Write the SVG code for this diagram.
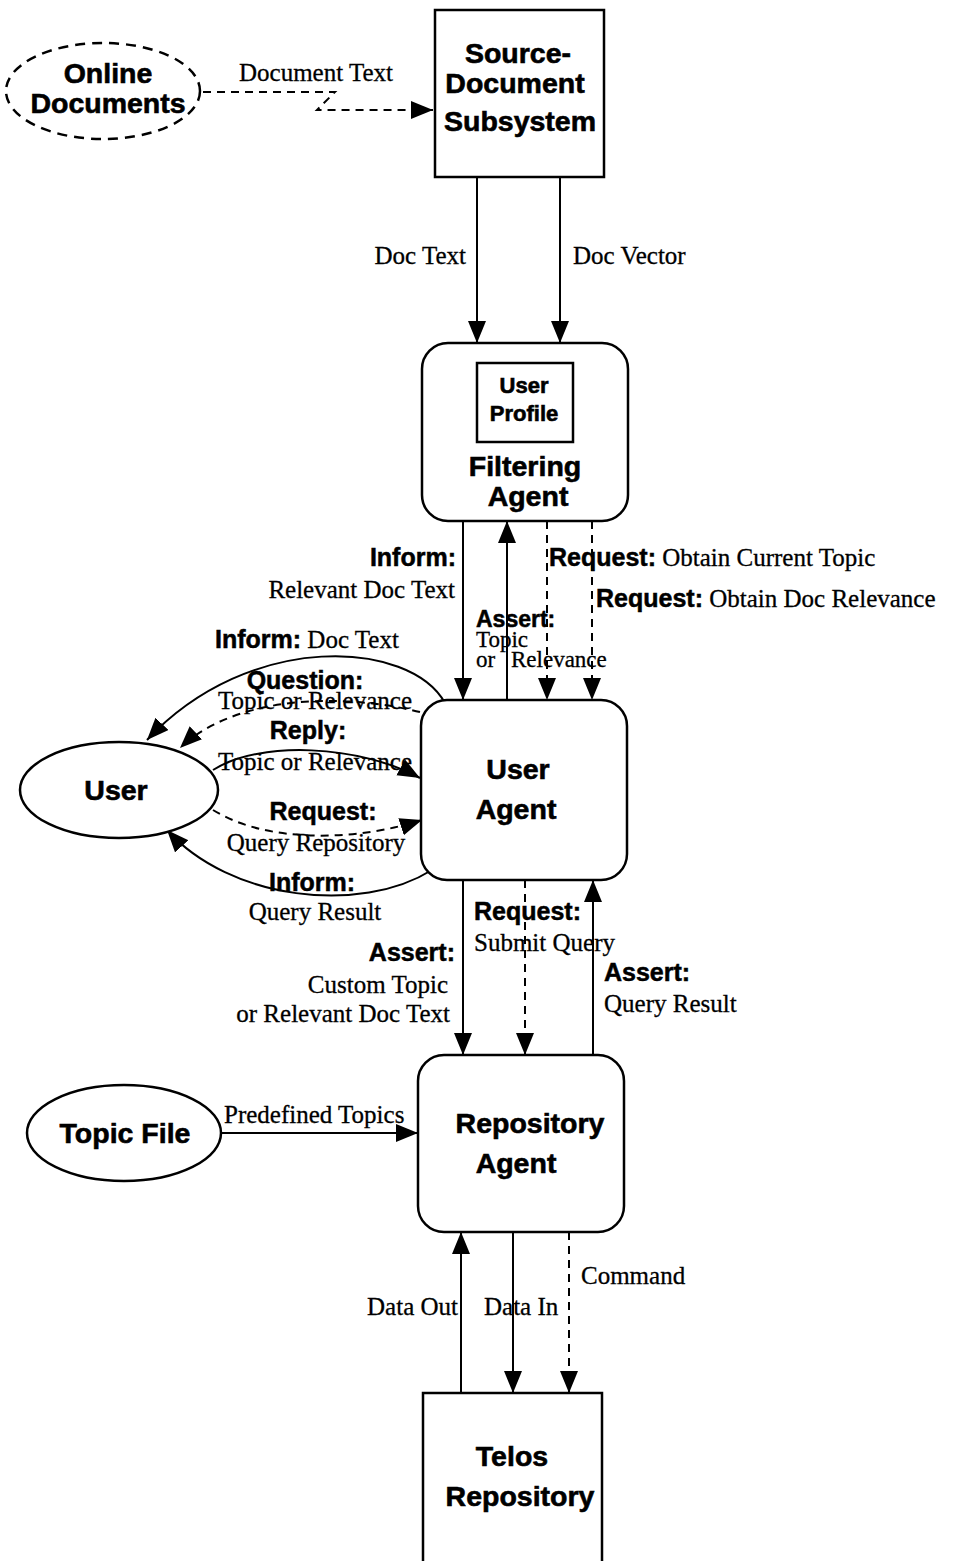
<svg xmlns="http://www.w3.org/2000/svg" width="953" height="1561" viewBox="0 0 953 1561">
<style>
.box{fill:#fff;stroke:#000;stroke-width:2.5}
.dbox{fill:none;stroke:#000;stroke-width:2.5;stroke-dasharray:10,7}
.n{font-family:"Liberation Sans",Arial,sans-serif;font-weight:bold;font-size:28.5px;text-anchor:middle;fill:#000;stroke:#000;stroke-width:0.6}
.b{font-family:"Liberation Sans",Arial,sans-serif;font-weight:bold;font-size:25px;fill:#000;stroke:#000;stroke-width:0.5}
.s{font-family:"Liberation Serif","Times New Roman",serif;font-size:25px;fill:#000;stroke:#000;stroke-width:0.3}
.c{fill:none;stroke:#000;stroke-width:2}
.d{fill:none;stroke:#000;stroke-width:2;stroke-dasharray:8,6}
</style>
<defs>
<marker id="ah" markerUnits="userSpaceOnUse" markerWidth="24" markerHeight="20" refX="22" refY="9" orient="auto">
<path d="M0,0 L22,9 L0,18 z" fill="#000"/>
</marker>
</defs>

<g id="connectors">
<path class="d" d="M203,92 H335 L317,110 H433" marker-end="url(#ah)"/>
<path class="c" d="M477,177 V343" marker-end="url(#ah)"/>
<path class="c" d="M560,177 V343" marker-end="url(#ah)"/>
<path class="c" d="M463,521 V700" marker-end="url(#ah)"/>
<path class="c" d="M507,700 V521" marker-end="url(#ah)"/>
<path class="d" d="M547,521 V700" marker-end="url(#ah)"/>
<path class="d" d="M592,521 V700" marker-end="url(#ah)"/>
<path class="c" d="M445,703 C410,640 250,630 147,740" marker-end="url(#ah)"/>
<path class="d" d="M420,712 C330,690 230,700 180,748" marker-end="url(#ah)"/>
<path class="c" d="M213,770 C260,740 360,745 420,778" marker-end="url(#ah)"/>
<path class="d" d="M213,810 C270,845 360,840 422,820" marker-end="url(#ah)"/>
<path class="c" d="M432,870 C360,915 230,900 167,830" marker-end="url(#ah)"/>
<path class="c" d="M463,880 V1055" marker-end="url(#ah)"/>
<path class="d" d="M525,880 V1055" marker-end="url(#ah)"/>
<path class="c" d="M593,1055 V880" marker-end="url(#ah)"/>
<path class="c" d="M220,1133 H418" marker-end="url(#ah)"/>
<path class="c" d="M461,1393 V1232" marker-end="url(#ah)"/>
<path class="c" d="M513,1232 V1393" marker-end="url(#ah)"/>
<path class="d" d="M569,1232 V1393" marker-end="url(#ah)"/>
</g>

<g id="labels">
<text class="s" x="239" y="81">Document Text</text>
<text class="s" x="466" y="264" text-anchor="end">Doc Text</text>
<text class="s" x="573" y="264">Doc Vector</text>
<text class="b" x="456" y="566" text-anchor="end">Inform:</text>
<text class="s" x="455" y="598" text-anchor="end">Relevant Doc Text</text>
<text x="549" y="566"><tspan class="b">Request:</tspan><tspan class="s"> Obtain Current Topic</tspan></text>
<text x="596" y="607"><tspan class="b">Request:</tspan><tspan class="s"> Obtain Doc Relevance</tspan></text>
<text class="b" x="476" y="627" style="font-size:23px">Assert:</text>
<text class="s" x="476" y="647" style="font-size:23px">Topic</text>
<text class="s" y="667" style="font-size:23px"><tspan x="476">or</tspan><tspan x="511">Relevance</tspan></text>
<text x="215" y="648"><tspan class="b">Inform:</tspan><tspan class="s"> Doc Text</tspan></text>
<text class="b" x="305" y="689" text-anchor="middle">Question:</text>
<text class="s" x="315" y="709" text-anchor="middle">Topic or Relevance</text>
<text class="b" x="308" y="739" text-anchor="middle">Reply:</text>
<text class="s" x="315" y="770" text-anchor="middle">Topic or Relevance</text>
<text class="b" x="323" y="820" text-anchor="middle">Request:</text>
<text class="s" x="316" y="851" text-anchor="middle">Query Repository</text>
<text class="b" x="312" y="891" text-anchor="middle">Inform:</text>
<text class="s" x="315" y="920" text-anchor="middle">Query Result</text>
<text class="b" x="474" y="920">Request:</text>
<text class="s" x="474" y="951">Submit Query</text>
<text class="b" x="455" y="961" text-anchor="end">Assert:</text>
<text class="s" x="448" y="993" text-anchor="end">Custom Topic</text>
<text class="s" x="450" y="1022" text-anchor="end">or Relevant Doc Text</text>
<text class="b" x="604" y="981">Assert:</text>
<text class="s" x="604" y="1012">Query Result</text>
<text class="s" x="224" y="1123">Predefined Topics</text>
<text class="s" x="458" y="1315" text-anchor="end">Data Out</text>
<text class="s" x="484" y="1315">Data In</text>
<text class="s" x="581" y="1284">Command</text>
</g>

<g id="online-documents">
<ellipse class="dbox" cx="103" cy="91" rx="97" ry="48"/>
<text class="n" x="108" y="83">Online</text>
<text class="n" x="108" y="113">Documents</text>
</g>

<g id="source-document-subsystem">
<rect class="box" x="435" y="10" width="169" height="167"/>
<text class="n" x="518" y="63">Source-</text>
<text class="n" x="515" y="93">Document</text>
<text class="n" x="520" y="131">Subsystem</text>
</g>

<g id="filtering-agent">
<rect class="box" x="422" y="343" width="206" height="178" rx="26"/>
<rect class="box" x="477" y="363" width="96" height="79"/>
<text class="n" x="524" y="393" style="font-size:22px">User</text>
<text class="n" x="524" y="421" style="font-size:22px">Profile</text>
<text class="n" x="525" y="476">Filtering</text>
<text class="n" x="528" y="506">Agent</text>
</g>

<g id="user-agent">
<rect class="box" x="421" y="700" width="206" height="180" rx="26"/>
<text class="n" x="518" y="779">User</text>
<text class="n" x="516" y="819">Agent</text>
</g>

<g id="user">
<ellipse class="box" cx="119" cy="790" rx="99" ry="48"/>
<text class="n" x="116" y="800">User</text>
</g>

<g id="repository-agent">
<rect class="box" x="418" y="1055" width="206" height="177" rx="26"/>
<text class="n" x="530" y="1133">Repository</text>
<text class="n" x="516" y="1173">Agent</text>
</g>

<g id="topic-file">
<ellipse class="box" cx="124" cy="1133" rx="97" ry="48"/>
<text class="n" x="125" y="1143">Topic File</text>
</g>

<g id="telos-repository">
<rect class="box" x="423" y="1393" width="179" height="175"/>
<text class="n" x="512" y="1466">Telos</text>
<text class="n" x="520" y="1506">Repository</text>
</g>
</svg>
